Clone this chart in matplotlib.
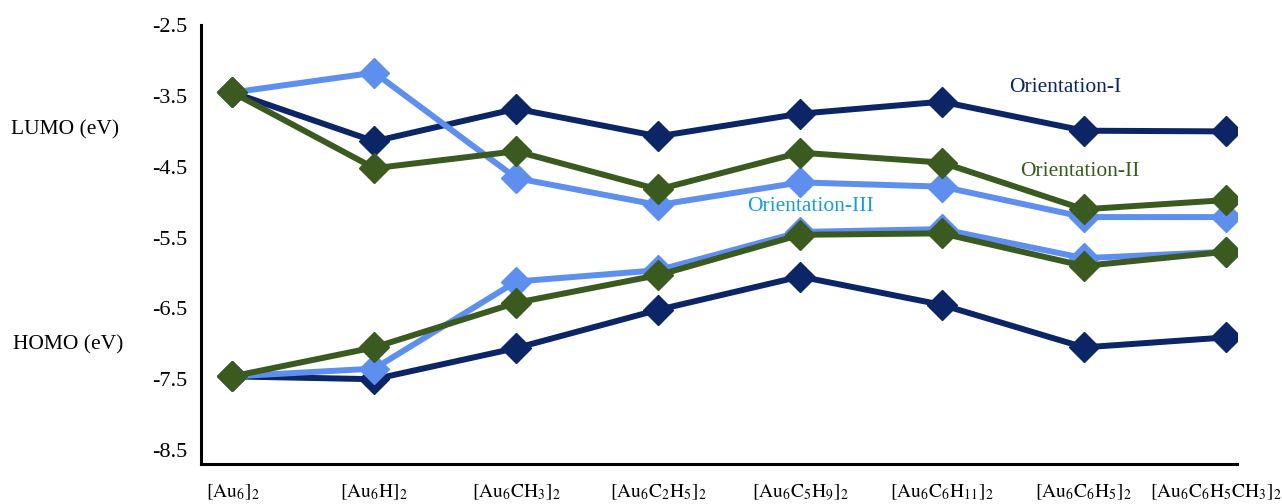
"""
Frontier orbital energies (LUMO / HOMO) of the [Au6X]2 dimers for three orientations.
"""

import matplotlib
matplotlib.use("Agg")
import matplotlib.pyplot as plt
from matplotlib.transforms import ScaledTranslation

plt.rcParams["font.family"] = ["Liberation Serif", "DejaVu Serif"]
plt.rcParams["mathtext.fontset"] = "stix"

SYSTEMS = [
    r"$[\mathrm{Au_6}]_2$",
    r"$[\mathrm{Au_6H}]_2$",
    r"$[\mathrm{Au_6CH_3}]_2$",
    r"$[\mathrm{Au_6C_2H_5}]_2$",
    r"$[\mathrm{Au_6C_5H_9}]_2$",
    r"$[\mathrm{Au_6C_6H_{11}}]_2$",
    r"$[\mathrm{Au_6C_6H_5}]_2$",
    r"$[\mathrm{Au_6C_6H_5CH_3}]_2$",
]

# energies in eV
lumo_I = [-3.45, -4.14, -3.68, -4.07, -3.75, -3.58, -3.99, -4.00]
lumo_II = [-3.45, -4.52, -4.28, -4.82, -4.30, -4.44, -5.10, -4.97]
lumo_III = [-3.45, -3.17, -4.66, -5.04, -4.72, -4.78, -5.21, -5.21]

homo_I = [-7.46, -7.50, -7.06, -6.52, -6.05, -6.45, -7.05, -6.91]
homo_II = [-7.46, -7.05, -6.42, -6.03, -5.46, -5.44, -5.90, -5.70]
homo_III = [-7.46, -7.35, -6.12, -5.96, -5.42, -5.38, -5.79, -5.70]

YTICKS = [-2.5, -3.5, -4.5, -5.5, -6.5, -7.5, -8.5]

NAVY = "#0b2566"
GREEN = "#3b5a20"
LBLUE = "#5f8fee"

x = list(range(len(SYSTEMS)))

fig = plt.figure(figsize=(12.82, 5.04), dpi=100)
ax = fig.add_axes([0.157, 0.079, 0.808, 0.871])

style = dict(marker="D", markersize=15, linewidth=4.3, solid_joinstyle="miter")
for lumo, homo, color in [(lumo_I, homo_I, NAVY),
                          (lumo_III, homo_III, LBLUE),
                          (lumo_II, homo_II, GREEN)]:
    ax.plot(x, lumo, color=color, **style)
    ax.plot(x, homo, color=color, **style)

ax.set_xlim(-0.22, 7.08)
ax.set_ylim(-8.7, -2.5)
ax.set_yticks(YTICKS)
ax.set_yticklabels([f"{v:g}" for v in YTICKS])
ax.set_xticks(x)
ax.set_xticklabels(SYSTEMS)
ax.tick_params(axis="y", length=0, labelsize=16, pad=10)
ax.tick_params(axis="x", length=0, labelsize=14, pad=13)

# the widest name sits at the right edge; nudge it left so it stays on the canvas
last = ax.get_xticklabels()[-1]
last.set_transform(last.get_transform() + ScaledTranslation(-0.1, 0, fig.dpi_scale_trans))

for side in ("top", "right"):
    ax.spines[side].set_visible(False)
for side in ("left", "bottom"):
    ax.spines[side].set_linewidth(2.2)
    ax.spines[side].set_color("black")

ax.text(5.47, -3.38, "Orientation-I", color=NAVY, fontsize=15.5, va="center")
ax.text(5.55, -4.56, "Orientation-II", color=GREEN, fontsize=15.5, va="center")
ax.text(3.63, -5.06, "Orientation-III", color="#1a9cd8", fontsize=15.5, va="center")

fig.text(65 / 1282, 1 - 130 / 504, "LUMO (eV)", fontsize=15.5, ha="center", va="center")
fig.text(68 / 1282, 1 - 345 / 504, "HOMO (eV)", fontsize=15.5, ha="center", va="center")

fig.savefig("out.png", dpi=100)
